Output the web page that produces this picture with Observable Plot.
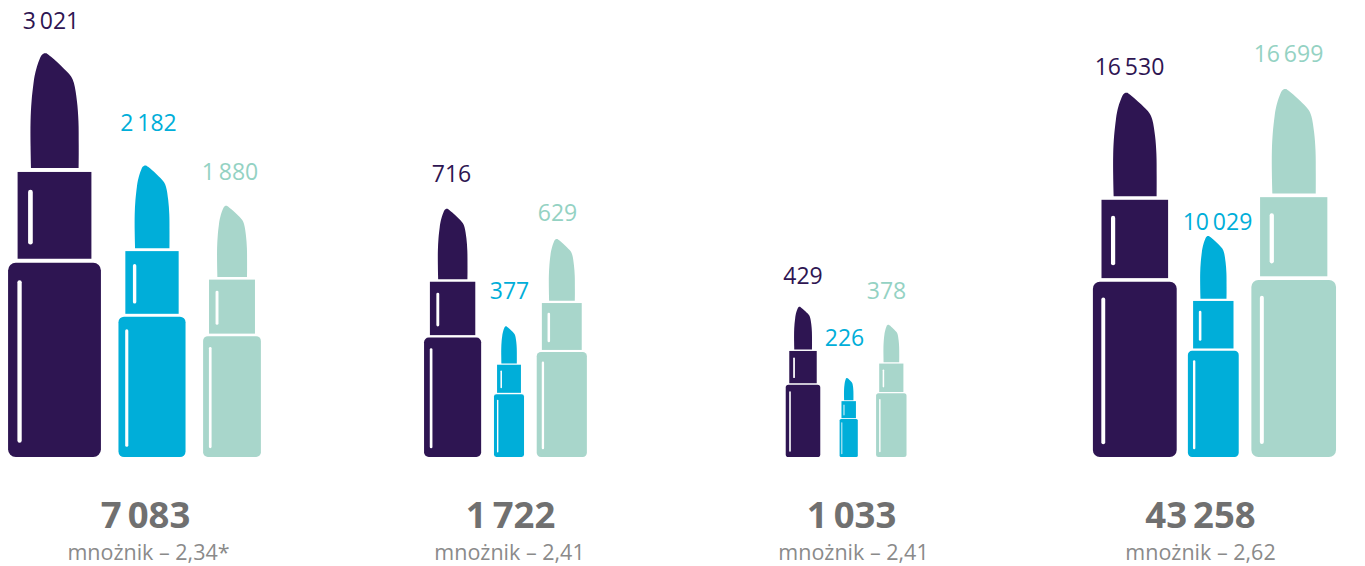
<!DOCTYPE html>
<html lang="pl">
<head>
<meta charset="utf-8">
<title>Szminki</title>
<script src="https://cdn.jsdelivr.net/npm/d3@7"></script>
<script src="https://cdn.jsdelivr.net/npm/@observablehq/plot@0.6"></script>
<style>
  html, body { margin: 0; padding: 0; background: #fff; }
  svg { display: block; }
</style>
</head>
<body>
<div id="chart"></div>
<script>
// Sales per group: three lipsticks in each of the four clusters.
const darkValues = [3021, 716, 429, 16530];
const blueValues = [2182, 377, 226, 10029];
const mintValues = [1880, 629, 378, 16699];
const totals = [7083, 1722, 1033, 43258];
const multipliers = ["mnożnik – 2,34*", "mnożnik – 2,41", "mnożnik – 2,41", "mnożnik – 2,62"];

// Each cluster has its own pictogram scale (height units per value unit).
const clusterScale = [0.13365, 0.3467, 0.3501, 0.02204];

// Horizontal placement of lipsticks and value labels, per cluster.
const darkX = [54.5, 452.6, 803, 1134.8];
const blueX = [152, 509, 848.7, 1213.3];
const mintX = [232, 561.8, 891.3, 1293.7];
const darkLabelX = [50.5, 451, 802.5, 1129];
const blueLabelX = [148, 509, 844, 1217];
const mintLabelX = [229.5, 557, 886, 1288];

// Label heights above the common base line.
const darkLabelY = [436, 283, 181, 390];
const blueLabelY = [334, 166, 119, 235];
const mintLabelY = [285, 244, 166, 403];
const totalX = [145, 510, 851, 1200];
const multiplierX = [148, 509, 853, 1200];
const totalY = -59;
const multiplierY = -95.8;

const palette = {dark: "#2e1552", blue: "#00aed9", mint: "#a8d6cb"};
const labelPalette = {dark: "#2e1552", blue: "#00aed9", mint: "#94d2c3"};

// Lipstick outline as fractions of its total height.
const bulletOutline = [
  {u: 1.000, l: -0.0259, r: -0.0198},
  {u: 0.995, l: -0.0321, r: -0.0136},
  {u: 0.985, l: -0.0370, r: -0.0012},
  {u: 0.968, l: -0.0432, r: 0.0173},
  {u: 0.943, l: -0.0494, r: 0.0407},
  {u: 0.926, l: -0.0519, r: 0.0481},
  {u: 0.881, l: -0.0568, r: 0.0556},
  {u: 0.832, l: -0.0593, r: 0.0593},
  {u: 0.770, l: -0.0593, r: 0.0600},
  {u: 0.716, l: -0.0580, r: 0.0600}
];
const bodyShape = {l: -0.115, r: 0.115, y1: 0, y2: 0.481, radius: 0.019};
const capShape = {l: -0.0914, r: 0.0914, y1: 0.491, y2: 0.706};
const bodyGlint = {l: -0.0919, r: -0.0812, y1: 0.0353, y2: 0.438};
const capGlint = {l: -0.0654, r: -0.0538, y1: 0.526, y2: 0.662};

const fmt = d3.formatLocale({decimal: ",", thousands: "\u2009", grouping: [3], currency: ["", ""]}).format(",d");
const font = "Open Sans";

function box(cx, h, shape, fill, rx) {
  return Plot.rect([shape], {
    x1: s => cx + s.l * h,
    x2: s => cx + s.r * h,
    y1: s => s.y1 * h,
    y2: s => s.y2 * h,
    fill,
    rx
  });
}

// One lipstick: bullet, cap, body and the two white highlights.
function lipstick(value, k, cx, colour) {
  const h = value * k;
  return [
    Plot.areaX(bulletOutline, {
      x1: d => cx + d.l * h,
      x2: d => cx + d.r * h,
      y: d => d.u * h,
      fill: colour,
      curve: "catmull-rom"
    }),
    box(cx, h, capShape, colour, 0),
    box(cx, h, bodyShape, colour, bodyShape.radius * h),
    box(cx, h, bodyGlint, "#fff", 0.0054 * h),
    box(cx, h, capGlint, "#fff", 0.0058 * h)
  ];
}

const series = [
  {values: darkValues, xs: darkX, lx: darkLabelX, ly: darkLabelY, key: "dark"},
  {values: blueValues, xs: blueX, lx: blueLabelX, ly: blueLabelY, key: "blue"},
  {values: mintValues, xs: mintX, lx: mintLabelX, ly: mintLabelY, key: "mint"}
];

const marks = series.flatMap(s => [
  ...s.values.flatMap((v, i) => lipstick(v, clusterScale[i], s.xs[i], palette[s.key])),
  Plot.text(s.values, {
    x: (d, i) => s.lx[i],
    y: (d, i) => s.ly[i],
    text: d => fmt(d),
    fill: labelPalette[s.key],
    fontSize: 23,
    fontFamily: font,
    textAnchor: "middle",
    lineAnchor: "middle"
  })
]);

marks.push(
  Plot.text(totals, {
    x: (d, i) => totalX[i],
    y: totalY,
    text: d => fmt(d),
    fill: "#707070",
    fontSize: 36.5,
    fontWeight: 700,
    fontFamily: font,
    lineAnchor: "middle"
  }),
  Plot.text(multipliers, {
    x: (d, i) => multiplierX[i],
    y: multiplierY,
    text: d => d,
    fill: "#8a8a8a",
    fontSize: 21.5,
    fontFamily: font,
    lineAnchor: "middle"
  })
);

const chart = Plot.plot({
  width: 1365,
  height: 566,
  margin: 0,
  style: {background: "#fff"},
  x: {domain: [0, 1365], range: [0, 1365], axis: null},
  y: {domain: [-109, 457], range: [566, 0], axis: null},
  marks
});
document.getElementById("chart").append(chart);
</script>
</body>
</html>
